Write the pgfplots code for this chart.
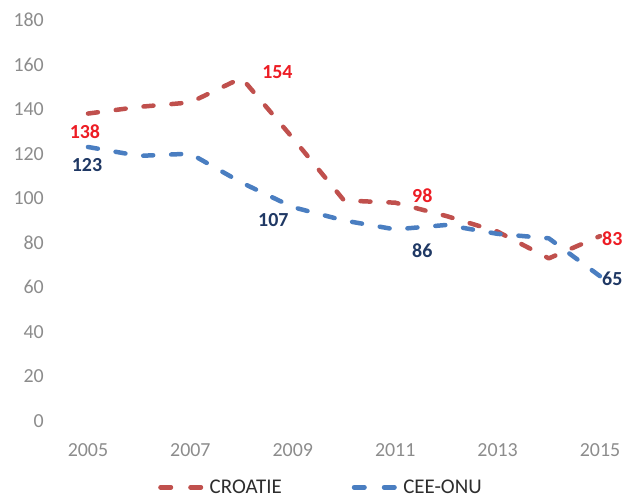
\documentclass[border=0pt]{standalone}
\usepackage{pgfplots}
\pgfplotsset{compat=1.18}
\usepackage{fontspec}
\setmainfont{Carlito}
\definecolor{lineRed}{RGB}{192,80,77}
\definecolor{lineBlue}{RGB}{74,126,193}
\definecolor{lblRed}{RGB}{237,28,36}
\definecolor{lblBlue}{RGB}{31,56,100}
\definecolor{tickgray}{RGB}{140,140,140}
\definecolor{leggray}{RGB}{45,45,45}
\newcommand{\cfont}{\fontsize{20}{24}\selectfont}
\begin{document}
\begin{tikzpicture}
\useasboundingbox (0,0) rectangle (623bp,499bp);
\begin{axis}[
  at={(67.5bp,78bp)}, anchor=south west,
  scale only axis, width=553bp, height=401bp,
  xmin=2004.6, xmax=2015.4, ymin=0, ymax=180,
  axis line style={draw=none}, major tick length=0pt,
  xtick={2005,2007,...,2015}, ytick={0,20,...,180},
  /pgf/number format/1000 sep={},
  /pgf/number format/assume math mode=true,
  ticklabel style={font=\cfont, text=tickgray},
  yticklabel style={inner sep=0pt, anchor=east, xshift=-23.5bp},
  xticklabel style={inner sep=0pt, anchor=north, yshift=-22bp},
  clip=false,
  legend style={draw=none, fill=none, at={(0.1637,-0.1656)}, anchor=west,
    font=\fontsize{21}{25}\selectfont, text=leggray, inner sep=0pt,
    /tikz/every odd column/.append style={column sep=4.5bp},
    /tikz/every even column/.append style={column sep=68bp}},
  legend columns=2,
  legend image code/.code={\draw[#1, dash pattern=on 10.5bp off 19.5bp] (2.25bp,0bp) -- (42.75bp,0bp);},
  every axis plot/.append style={line width=4.5bp, line cap=round, line join=round, dash pattern=on 10bp off 18bp},
]
\addplot[color=lineRed] coordinates {
 (2005,138) (2006,141) (2007,143) (2008,154) (2009,127) (2010,99)
 (2011,98) (2012,92) (2013,85) (2014,73) (2015,83)};
\addlegendentry{CROATIE}
\addplot[color=lineBlue] coordinates {
 (2005,123) (2006,119) (2007,120) (2008,107) (2009,96) (2010,90)
 (2011,86) (2012,88) (2013,84) (2014,82) (2015,65)};
\addlegendentry{CEE-ONU}
\begin{scope}[every node/.style={font=\bfseries\cfont, inner sep=0pt}]
\node[text=lblRed] at (axis cs:2004.94,129.7) {138};
\node[text=lblBlue] at (axis cs:2004.98,114.9) {123};
\node[text=lblRed] at (axis cs:2008.70,156.8) {154};
\node[text=lblBlue] at (axis cs:2008.62,90.2) {107};
\node[text=lblRed] at (axis cs:2011.53,101.2) {98};
\node[text=lblBlue] at (axis cs:2011.53,76.6) {86};
\node[text=lblRed] at (axis cs:2015.24,81.8) {83};
\node[text=lblBlue] at (axis cs:2015.24,63.8) {65};
\end{scope}
\end{axis}
\end{tikzpicture}
\end{document}
